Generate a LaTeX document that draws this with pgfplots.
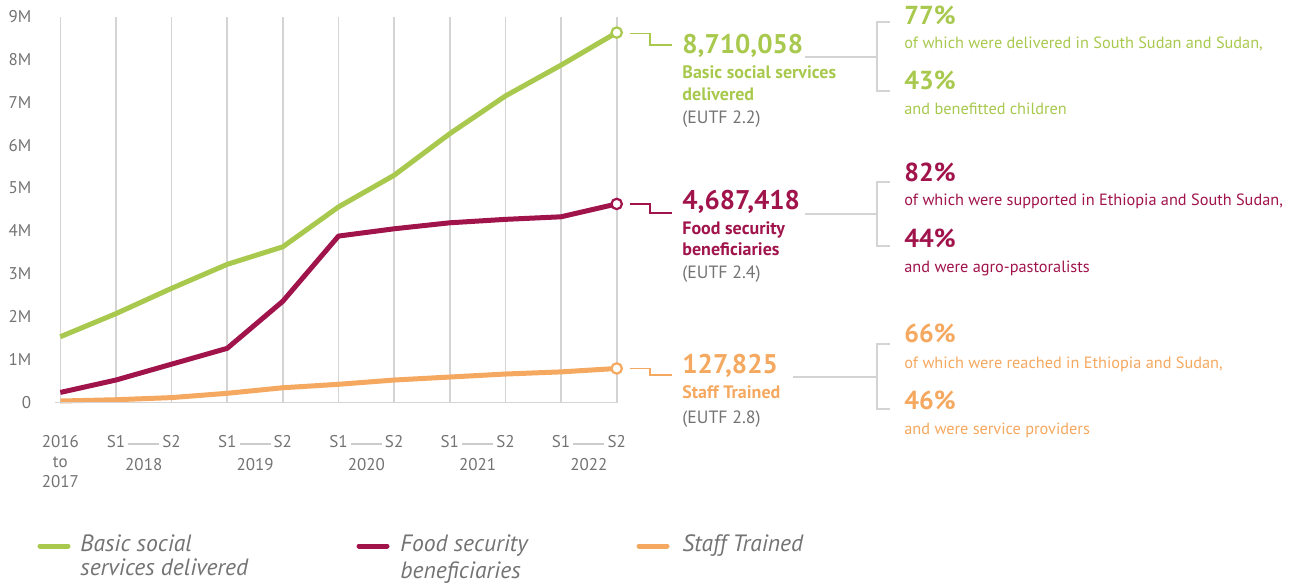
\documentclass[border=0pt]{standalone}
\usepackage{fontspec}
\setmainfont{PT Sans}
\usepackage{pgfplots}
\pgfplotsset{compat=1.18}
\definecolor{cgreen}{RGB}{168,201,78}
\definecolor{ccrim}{RGB}{160,20,75}
\definecolor{corange}{RGB}{245,168,95}
\definecolor{ctext}{RGB}{115,115,115}
\definecolor{cgrid}{RGB}{212,212,212}
\begin{document}
\begin{tikzpicture}
\begin{axis}[
  at={(30.15pt,-201.15pt)}, anchor=south west,
  scale only axis, width=278.2pt, height=192.8pt,
  xmin=0, xmax=10, ymin=0, ymax=9,
  clip=false,
  axis line style={draw=none},
  xmajorgrids, major grid style={cgrid, line width=0.8pt},
  major tick length=0pt,
  ytick={0,1,...,9},
  yticklabels={0,1M,2M,3M,4M,5M,6M,7M,8M,9M},
  yticklabel style={anchor=east, xshift=-11pt, text=ctext, font=\fontsize{8.5}{10}\selectfont},
  xtick={0,1,...,10},
  xticklabels={{2016\\to\\2017},S1,S2,S1,S2,S1,S2,S1,S2,S1,S2},
  xticklabel style={align=center, yshift=-13pt, text=ctext, font=\fontsize{8.5}{10}\selectfont},
]
\addplot[corange, line width=2.5pt, line join=round] coordinates {
(0,0.03) (1,0.06) (2,0.11) (3,0.21) (4,0.34) (5,0.42) (6,0.52) (7,0.59) (8,0.66) (9,0.71) (10,0.79)};
\addplot[ccrim, line width=2.5pt, line join=round] coordinates {
(0,0.23) (1,0.52) (2,0.89) (3,1.26) (4,2.36) (5,3.88) (6,4.05) (7,4.19) (8,4.27) (9,4.33) (10,4.63)};
\addplot[cgreen, line width=2.5pt, line join=round] coordinates {
(0,1.53) (1,2.07) (2,2.66) (3,3.22) (4,3.63) (5,4.56) (6,5.30) (7,6.27) (8,7.15) (9,7.87) (10,8.63)};
\addplot[only marks, mark=*, mark size=2.6pt, mark options={fill=white, draw=cgreen, line width=1.1pt}] coordinates {(10,8.63)};
\addplot[only marks, mark=*, mark size=2.6pt, mark options={fill=white, draw=ccrim, line width=1.1pt}] coordinates {(10,4.63)};
\addplot[only marks, mark=*, mark size=2.6pt, mark options={fill=white, draw=corange, line width=1.1pt}] coordinates {(10,0.79)};
\end{axis}
\begin{scope}[x=0.5pt,y=-0.5pt]
\path (0,0) rectangle (1290,584);
% bottom axis line
\draw[cgrid, line width=0.8pt] (55,402.3) -- (618,402.3);
% x year labels and dashes
\foreach \k/\yr in {0/2018,1/2019,2/2020,3/2021,4/2022}{
  \pgfmathsetmacro{\mx}{60.3+55.64*(1.5+2*\k)}
  \draw[cgrid!80!black!60, line width=0.6pt] (\mx-15.5,444) -- (\mx+15.5,444);
  \node[text=ctext, font=\fontsize{8.5}{10}\selectfont, inner sep=0] at (\mx,465) {\yr};
}
% connectors
\draw[cgreen, line width=0.6pt] (630,33.3) -- (650,33.3) -- (650,45) -- (672,45);
\draw[ccrim, line width=0.6pt] (630,204) -- (650,204) -- (650,213) -- (672,213);
\draw[corange, line width=0.6pt] (630,368.3) -- (650,368.3) -- (650,375) -- (672,375);
% gray brackets
\draw[cgrid, line width=0.8pt] (805,57) -- (877,57);
\draw[cgrid, line width=0.8pt] (890,22) -- (877,22) -- (877,91) -- (890,91);
\draw[cgrid, line width=0.8pt] (805,214) -- (877,214);
\draw[cgrid, line width=0.8pt] (890,182) -- (877,182) -- (877,246) -- (890,246);
\draw[cgrid, line width=0.8pt] (793,377) -- (877,377);
\draw[cgrid, line width=0.8pt] (890,344) -- (877,344) -- (877,409) -- (890,409);
% texts
\tikzset{big/.style={anchor=mid west, inner sep=0, font=\fontsize{13.5}{16}\selectfont\bfseries},
  pct/.style={anchor=mid west, inner sep=0, font=\fontsize{13}{15}\selectfont\bfseries},
  lab/.style={anchor=mid west, inner sep=0, font=\fontsize{9}{10}\selectfont\bfseries},
  ref/.style={anchor=mid west, inner sep=0, font=\fontsize{8.9}{10}\selectfont},
  txt/.style={anchor=mid west, inner sep=0, font=\fontsize{8.15}{10}\selectfont}}
% green
\node[big, text=cgreen] at (682,48) {8,710,058};
\node[lab, text=cgreen] at (682,73) {Basic social services};
\node[lab, text=cgreen] at (682,95) {delivered};
\node[ref, text=ctext] at (682,118) {(EUTF 2.2)};
\node[pct, text=cgreen] at (904,19) {77\%};
\node[txt, text=cgreen] at (904,43) {of which were delivered in South Sudan and Sudan,};
\node[pct, text=cgreen] at (904,84) {43\%};
\node[txt, text=cgreen] at (904,109) {and benefitted children};
% crimson
\node[big, text=ccrim] at (682,204) {4,687,418};
\node[lab, text=ccrim] at (682,229) {Food security};
\node[lab, text=ccrim] at (682,250) {beneficiaries};
\node[ref, text=ctext] at (682,273) {(EUTF 2.4)};
\node[pct, text=ccrim] at (904,176) {82\%};
\node[txt, text=ccrim] at (904,200) {of which were supported in Ethiopia and South Sudan,};
\node[pct, text=ccrim] at (904,242) {44\%};
\node[txt, text=ccrim] at (904,267) {and were agro-pastoralists};
% orange
\node[big, text=corange] at (682,368) {127,825};
\node[lab, text=corange] at (682,393) {Staff Trained};
\node[ref, text=ctext] at (682,418) {(EUTF 2.8)};
\node[pct, text=corange] at (904,337) {66\%};
\node[txt, text=corange] at (904,363) {of which were reached in Ethiopia and Sudan,};
\node[pct, text=corange] at (904,404) {46\%};
\node[txt, text=corange] at (904,429) {and were service providers};
% legend
\tikzset{leg/.style={anchor=mid west, inner sep=0, text=ctext, font=\fontsize{11.8}{13}\selectfont\itshape}}
\draw[cgreen, line width=2.5pt, line cap=round] (40,546) -- (68,546);
\node[leg] at (80,546) {Basic social};
\node[leg] at (80,570) {services delivered};
\draw[ccrim, line width=2.5pt, line cap=round] (359,546) -- (387,546);
\node[leg] at (400,546) {Food security};
\node[leg] at (400,573) {beneficiaries};
\draw[corange, line width=2.5pt, line cap=round] (639,546) -- (667,546);
\node[leg] at (682,546) {Staff Trained};
\end{scope}
\end{tikzpicture}
\end{document}
